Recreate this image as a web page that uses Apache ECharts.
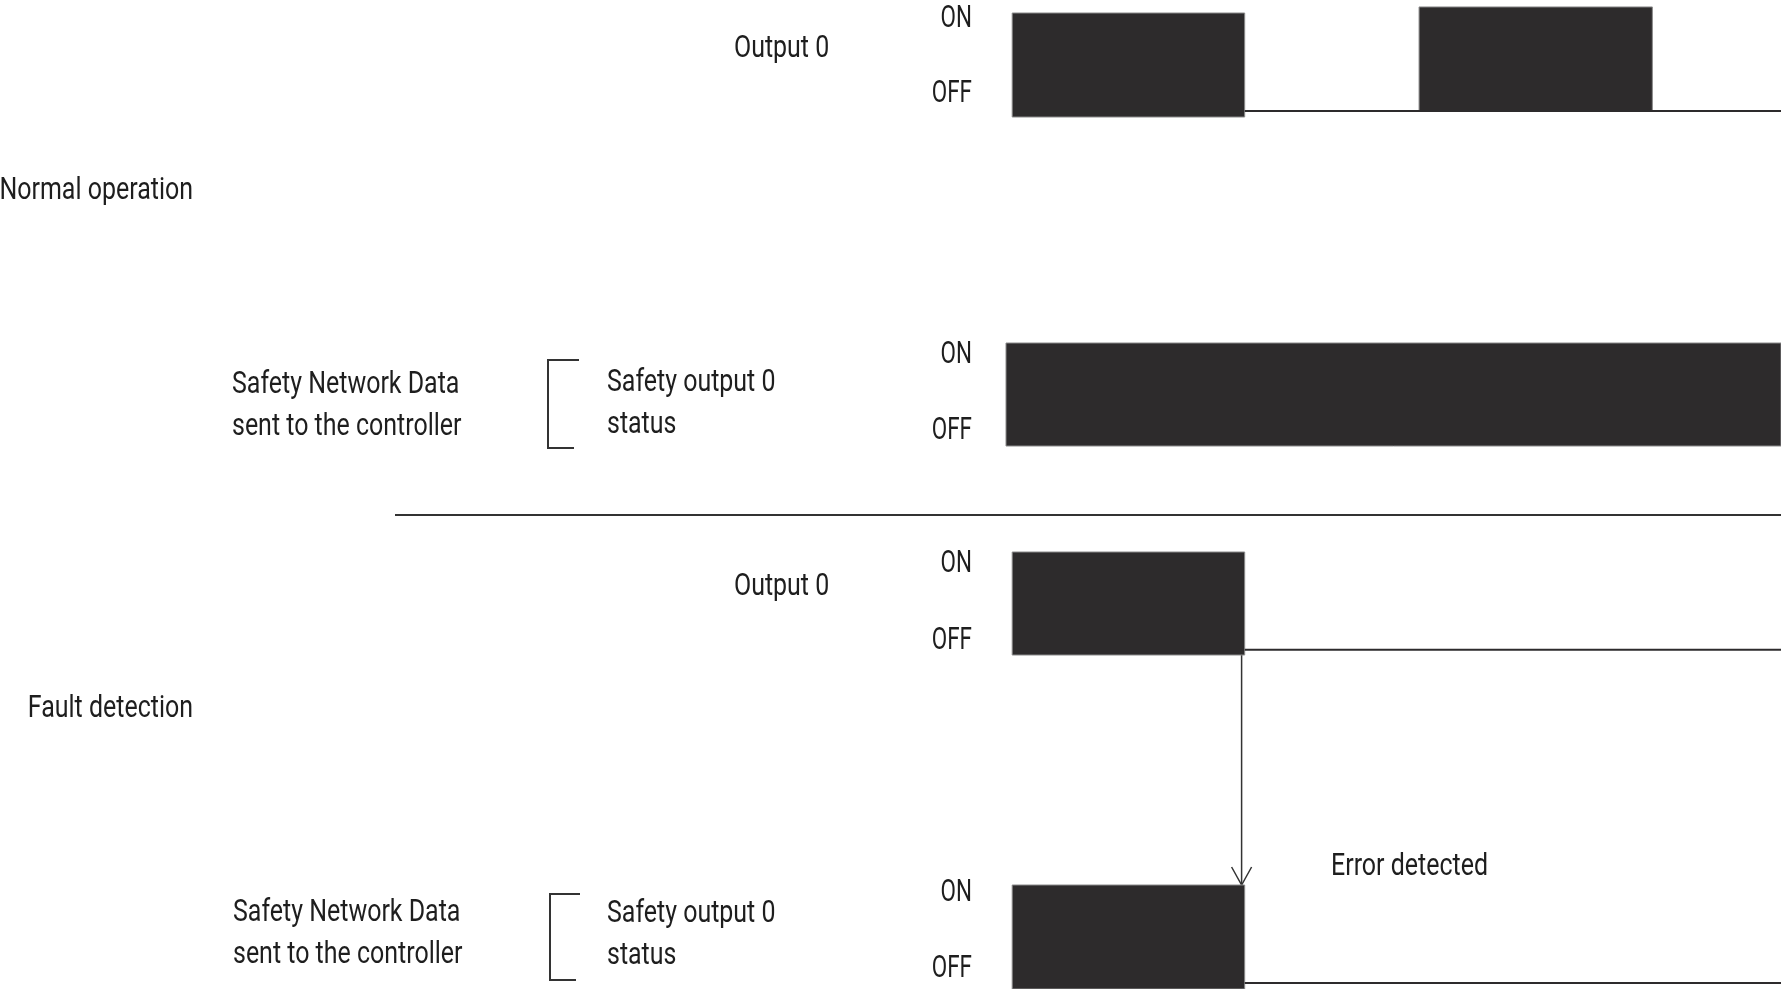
<!DOCTYPE html>
<html>
<head>
<meta charset="utf-8">
<script src="https://cdn.jsdelivr.net/npm/echarts@6/dist/echarts.min.js"></script>
<style>
  html, body { margin: 0; padding: 0; background: #fff; }
  #chart { width: 1781px; height: 989px; }
</style>
</head>
<body>
<div id="chart"></div>
<script>
// time runs 0..100 across the signal area
const xMax = 100;
// pulses: [start, end, low, high] in signal units (0 = block bottom, 1 = block top)
const normalOutputPulses = [[0.8, 30.8, 0, 1], [53.3, 83.4, 0.058, 1.058]];
const normalOutputBaseline = [[30.8, 0.058], [100, 0.058]];
const normalStatusPulses = [[0, 100, 0, 1]];
const normalStatusBaseline = [];
const faultOutputPulses = [[0.8, 30.8, 0, 1]];
const faultOutputBaseline = [[30.8, 0.05], [100, 0.05]];
const faultStatusPulses = [[0.8, 30.8, 0, 1]];
const faultStatusBaseline = [[30.8, 0.058], [100, 0.058]];
const errorTime = 30.4;
// where the ON / OFF tick labels sit on each panel's level axis
const onTickLevels = [0.95, 0.89, 0.89, 0.93];
const offTickLevels = [0.23, 0.16, 0.15, 0.20];
const stateLabels = ['OFF', 'ON'];

const FONT = "Roboto, 'Noto Sans', sans-serif";
const SQUEEZE = 0.78;       // the original lettering is a condensed face
const LABEL_SQUEEZE = 0.7;
const INK = '#2d2b2c';
const TXT = '#1e1e1e';

const panelTops = [13, 343, 552, 885];
const panelHeights = [104, 103, 103, 104];
const pulseSets = [normalOutputPulses, normalStatusPulses, faultOutputPulses, faultStatusPulses];
const baselineSets = [normalOutputBaseline, normalStatusBaseline, faultOutputBaseline, faultStatusBaseline];

const chart = echarts.init(document.getElementById('chart'));

const grids = panelTops.map((t, i) => ({ left: 1006, right: 0, top: t, height: panelHeights[i] }));
const xAxes = grids.map((g, i) => ({
  type: 'value', gridIndex: i, min: 0, max: xMax, show: false
}));
const yAxes = grids.map((g, i) => ({
  type: 'value', gridIndex: i, min: 0, max: 1,
  splitLine: { show: false }, axisLine: { show: false }, axisTick: { show: false },
  axisLabel: { show: false }
}));

const series = [];
pulseSets.forEach((pulses, i) => {
  series.push({
    type: 'custom', xAxisIndex: i, yAxisIndex: i, clip: false, silent: true,
    data: pulses,
    renderItem: (params, api) => {
      const p0 = api.coord([api.value(0), api.value(3)]);
      const p1 = api.coord([api.value(1), api.value(2)]);
      return {
        type: 'rect',
        shape: { x: p0[0], y: p0[1], width: p1[0] - p0[0], height: p1[1] - p0[1] },
        style: { fill: INK, stroke: '#8a8a8a', lineWidth: 1 }
      };
    }
  });
  if (baselineSets[i].length) {
    series.push({
      type: 'line', xAxisIndex: i, yAxisIndex: i, silent: true,
      data: baselineSets[i], symbol: 'none',
      lineStyle: { color: INK, width: 2 }
    });
  }
  // ON / OFF level labels, placed on the level axis
  series.push({
    type: 'custom', xAxisIndex: i, yAxisIndex: i, clip: false, silent: true,
    data: [[0, offTickLevels[i], 0], [0, onTickLevels[i], 1]],
    renderItem: (params, api) => {
      const p = api.coord([0, api.value(1)]);
      return {
        type: 'text', x: params.coordSys.x - 34, y: p[1] + 1, scaleX: LABEL_SQUEEZE,
        style: {
          text: stateLabels[api.value(2)], fill: TXT, font: '32px ' + FONT,
          align: 'right', verticalAlign: 'middle'
        }
      };
    }
  });
});

function txt(text, x, y, align) {
  return {
    type: 'text', x: x, y: y, scaleX: SQUEEZE, silent: true,
    style: {
      text: text, fill: TXT, font: '32px ' + FONT,
      align: align || 'left', verticalAlign: 'middle', lineHeight: 42
    }
  };
}
function poly(points, w) {
  return { type: 'polyline', silent: true, shape: { points: points }, style: { stroke: '#333', lineWidth: w || 2, fill: null } };
}

const graphics = [
  txt('Output 0', 734, 49),
  txt('Normal operation', 193, 191, 'right'),
  txt('Safety Network Data\nsent to the controller', 232, 406),
  txt('Safety output 0\nstatus', 607, 404),
  poly([[579, 360], [548, 360], [548, 448], [574, 448]]),
  poly([[395, 515], [1781, 515]]),
  txt('Output 0', 734, 587),
  txt('Fault detection', 193, 709, 'right'),
  txt('Safety Network Data\nsent to the controller', 233, 934),
  txt('Safety output 0\nstatus', 607, 935),
  poly([[580, 894], [550, 894], [550, 980], [576, 980]]),
  txt('Error detected', 1331, 867)
];

chart.setOption({
  animation: false,
  backgroundColor: '#fff',
  grid: grids, xAxis: xAxes, yAxis: yAxes, series: series,
  graphic: graphics
});

// arrow from the output drop (panel 3) down to the status block (panel 4)
const from = chart.convertToPixel({ gridIndex: 2 }, [errorTime, 0]);
const to = chart.convertToPixel({ gridIndex: 3 }, [errorTime, 1]);
graphics.push(poly([[from[0], from[1]], [to[0], to[1]]], 1.5));
graphics.push(poly([[to[0] - 10, to[1] - 18], [to[0], to[1]], [to[0] + 10, to[1] - 18]], 1.5));
chart.setOption({ graphic: graphics });
</script>
</body>
</html>
